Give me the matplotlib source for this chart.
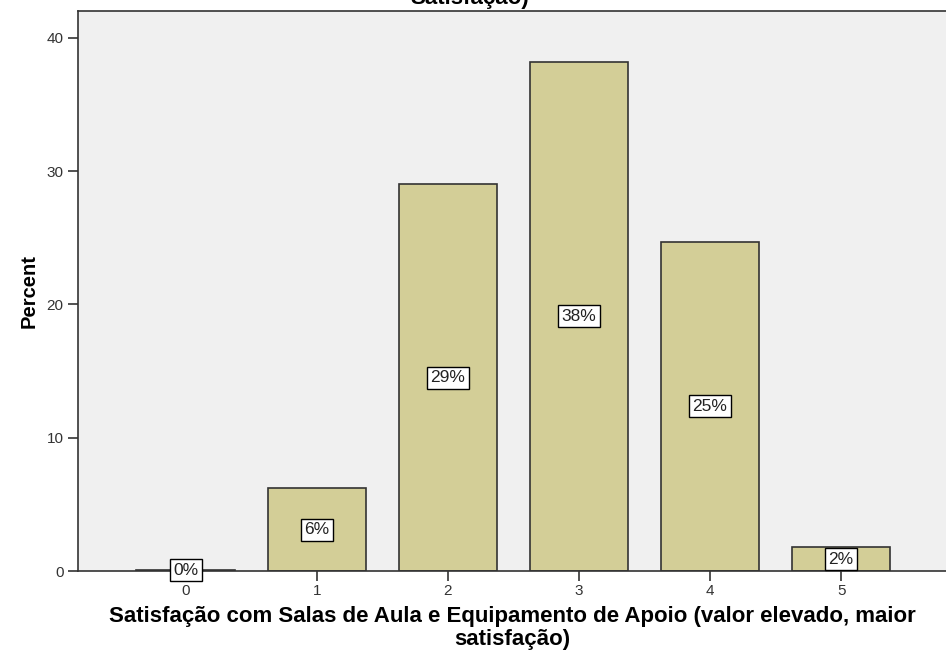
import matplotlib
matplotlib.use("Agg")
import matplotlib.pyplot as plt

# Data
categories = [0, 1, 2, 3, 4, 5]
percent = [0.1, 6.2, 29.0, 38.2, 24.7, 1.8]
labels = ["0%", "6%", "29%", "38%", "25%", "2%"]

plt.rcParams['font.family'] = ['Liberation Sans', 'DejaVu Sans']

fig = plt.figure(figsize=(9.46, 6.6), dpi=100)
ax = fig.add_axes([0.0825, 0.1348, 0.9175, 0.8485])
ax.set_facecolor('#F0F0F0')

ax.bar(categories, percent, width=0.75, color='#D3CE97', edgecolor='#333333', linewidth=1.2)

# percentage labels in white boxes at mid bar height
for x, p, lab in zip(categories, percent, labels):
    ax.text(x, p / 2, lab, ha='center', va='center', fontsize=12.5, color='#222222',
            bbox=dict(boxstyle='square,pad=0.2', facecolor='white', edgecolor='black', linewidth=1.0))

ax.set_xlim(-0.82, 5.8)
ax.set_ylim(0, 42)
ax.set_yticks([0, 10, 20, 30, 40])
ax.set_xticks(categories)
ax.tick_params(axis='both', direction='out', length=7, width=1.2, labelsize=11, colors='#333333')
ax.tick_params(axis='x', pad=2)
ax.spines['right'].set_visible(False)
for s in ['left', 'bottom', 'top']:
    ax.spines[s].set_color('#333333')
    ax.spines[s].set_linewidth(1.2)

ax.set_ylabel("Percent", fontsize=14.5, fontweight='bold', labelpad=6)
ax.set_xlabel("Satisfação com Salas de Aula e Equipamento de Apoio (valor elevado, maior\nsatisfação)",
              fontsize=16, fontweight='bold', labelpad=6, linespacing=1.15)

# title is cut off by the top edge in the reference
fig.text(0.497, 1.003, "Satisfação)", ha='center', va='center', fontsize=16, fontweight='bold')

fig.savefig("out.png", dpi=100)
plt.close()
